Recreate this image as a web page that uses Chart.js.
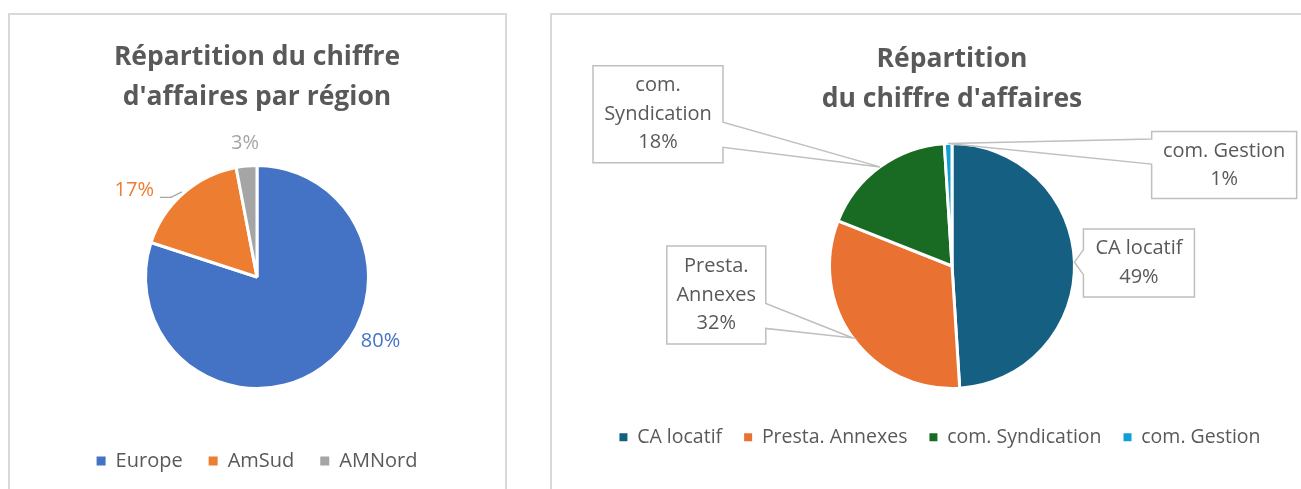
<!DOCTYPE html>
<html>
<head>
<meta charset="utf-8">
<script src="https://cdn.jsdelivr.net/npm/chart.js@4.4.1/dist/chart.umd.min.js"></script>
<style>
  body { margin: 0; width: 1301px; height: 489px; overflow: hidden; background: #fff; position: relative; }
  .panel { position: absolute; top: 13px; height: 520px; border: 2px solid #d9d9d9; box-sizing: border-box; }
  #leftPanel { left: 8px; width: 499px; }
  #rightPanel { left: 550px; width: 800px; }
  .box { position: absolute; }
  #regionBox { left: 10px; top: 15px; width: 494px; height: 466px; }
  #revenueBox { left: 553px; top: 15px; width: 748px; height: 442px; }
</style>
</head>
<body>
<div class="panel" id="leftPanel"></div>
<div class="panel" id="rightPanel"></div>
<div class="box" id="regionBox"><canvas id="regionChart"></canvas></div>
<div class="box" id="revenueBox"><canvas id="revenueChart"></canvas></div>
<script>
const regionLabels = ["Europe", "AmSud", "AMNord"]
const regionValues = [80, 17, 3]
const regionColors = ["#4472C4", "#ED7D31", "#A5A5A5"]

const revenueLabels = ["CA locatif", "Presta. Annexes", "com. Syndication", "com. Gestion"]
const revenueValues = [49, 32, 18, 1]
const revenueColors = ["#156082", "#E97132", "#196B24", "#0F9ED5"]

const textGray = "#595959"
const fontFamily = "'Open Sans', sans-serif"

// split a label into lines that fit into the callout width
function wrapText(ctx, text, maxWidth) {
  const words = text.split(" ")
  const lines = []
  let line = ""
  words.forEach((w) => {
    const test = line ? line + " " + w : w
    if (line && ctx.measureText(test).width > maxWidth) {
      lines.push(line)
      line = w
    } else {
      line = test
    }
  })
  if (line) lines.push(line)
  return lines
}

// percentage labels: plain coloured text or Excel-like callout boxes
const sliceLabels = {
  id: "sliceLabels",
  afterLayout(chart, args, opts) {
    // nudge the legend row sideways without moving the pie
    if (opts.legendShift && chart.legend) {
      chart.legend.left += opts.legendShift
      chart.legend.right += opts.legendShift
    }
  },
  afterDatasetsDraw(chart, args, opts) {
    const meta = chart.getDatasetMeta(0)
    const ds = chart.data.datasets[0]
    const total = ds.data.reduce((a, b) => a + b, 0)
    const ctx = chart.ctx
    ctx.save()
    ctx.font = opts.font
    ctx.textAlign = "center"
    ctx.textBaseline = "middle"
    meta.data.forEach((arc, i) => {
      const { x, y, startAngle, endAngle, outerRadius } =
        arc.getProps(["x", "y", "startAngle", "endAngle", "outerRadius"], true)
      const mid = (startAngle + endAngle) / 2
      const ex = x + Math.cos(mid) * outerRadius
      const ey = y + Math.sin(mid) * outerRadius
      const place = opts.placement[i]
      const pct = Math.round(ds.data[i] / total * 100) + "%"
      const cx = ex + place.dx
      const cy = ey + place.dy

      if (!opts.callout) {
        ctx.fillStyle = ds.backgroundColor[i]
        ctx.fillText(pct, cx, cy)
        if (place.leader) {
          const tw = ctx.measureText(pct).width
          const x1 = cx + tw / 2 + 6
          const y1 = cy + 7
          ctx.strokeStyle = "#A6A6A6"
          ctx.lineWidth = 1.2
          ctx.beginPath()
          ctx.moveTo(x1, y1)
          ctx.lineTo(x1 + 11, y1)
          ctx.lineTo(x + Math.cos(mid) * (outerRadius + 2), y + Math.sin(mid) * (outerRadius + 2))
          ctx.stroke()
        }
        return
      }

      const left = cx - place.w / 2
      const right = cx + place.w / 2
      const top = cy - place.h / 2
      const bottom = cy + place.h / 2
      const by = Math.min(Math.max(ey, top + 20), bottom - 28)
      const half = 12.5
      ctx.beginPath()
      ctx.moveTo(left, top)
      ctx.lineTo(right, top)
      if (ex > right) {
        ctx.lineTo(right, by - half)
        ctx.lineTo(ex, ey)
        ctx.lineTo(right, by + half)
      }
      ctx.lineTo(right, bottom)
      ctx.lineTo(left, bottom)
      if (ex < left) {
        ctx.lineTo(left, by + half)
        ctx.lineTo(ex, ey)
        ctx.lineTo(left, by - half)
      }
      ctx.closePath()
      ctx.fillStyle = "#fff"
      ctx.fill()
      ctx.strokeStyle = "#BFBFBF"
      ctx.lineWidth = 1.5
      ctx.stroke()

      const lines = wrapText(ctx, chart.data.labels[i], place.w - 10).concat(pct)
      const lh = opts.lineHeight
      ctx.fillStyle = textGray
      lines.forEach((t, k) => {
        ctx.fillText(t, cx, cy - (lines.length - 1) * lh / 2 + k * lh)
      })
    })
    ctx.restore()
  }
}

function legendNoBorder(chart) {
  return Chart.overrides.pie.plugins.legend.labels.generateLabels(chart)
    .map((l) => ({ ...l, lineWidth: 0 }))
}

new Chart(document.getElementById("regionChart"), {
  type: "pie",
  data: {
    labels: regionLabels,
    datasets: [{
      data: regionValues,
      backgroundColor: regionColors,
      borderColor: "#fff",
      borderWidth: 3,
      radius: 111.5
    }]
  },
  options: {
    responsive: true,
    maintainAspectRatio: false,
    animation: false,
    layout: { padding: 0 },
    plugins: {
      tooltip: { enabled: false },
      title: {
        display: true,
        text: ["Répartition du chiffre", "d'affaires par région"],
        color: textGray,
        font: { family: fontFamily, size: 26.5, weight: "bold", lineHeight: 40 / 26.5 },
        padding: { top: 22, bottom: 12 }
      },
      legend: {
        position: "bottom",
        labels: {
          boxWidth: 9,
          boxHeight: 9,
          padding: 26,
          color: textGray,
          font: { family: fontFamily, size: 20 },
          generateLabels: legendNoBorder
        }
      },
      sliceLabels: {
        font: "20px " + fontFamily,
        callout: false,
        placement: [
          { dx: 58, dy: -26 },
          { dx: -49, dy: -3, leader: true },
          { dx: -1.5, dy: -22.5 }
        ]
      }
    }
  },
  plugins: [sliceLabels]
})

new Chart(document.getElementById("revenueChart"), {
  type: "pie",
  data: {
    labels: revenueLabels,
    datasets: [{
      data: revenueValues,
      backgroundColor: revenueColors,
      borderColor: "#fff",
      borderWidth: 3,
      radius: 122.5
    }]
  },
  options: {
    responsive: true,
    maintainAspectRatio: false,
    animation: false,
    layout: { padding: { left: 50 } },
    plugins: {
      tooltip: { enabled: false },
      title: {
        display: true,
        text: ["Répartition", "du chiffre d'affaires"],
        color: textGray,
        font: { family: fontFamily, size: 26.5, weight: "bold", lineHeight: 40 / 26.5 },
        padding: { top: 24, bottom: 7.5 }
      },
      legend: {
        position: "bottom",
        labels: {
          boxWidth: 8,
          boxHeight: 8,
          padding: 22,
          color: textGray,
          font: { family: fontFamily, size: 19.5 },
          generateLabels: legendNoBorder
        }
      },
      sliceLabels: {
        font: "20px " + fontFamily,
        callout: true,
        lineHeight: 28.5,
        legendShift: -12,
        placement: [
          { dx: 64.5, dy: 0.8, w: 111, h: 68 },
          { dx: -136.6, dy: -43.1, w: 99, h: 98 },
          { dx: -222, dy: -52.6, w: 130, h: 97 },
          { dx: 276, dy: 21.5, w: 145, h: 67 }
        ]
      }
    }
  },
  plugins: [sliceLabels]
})
</script>
</body>
</html>
